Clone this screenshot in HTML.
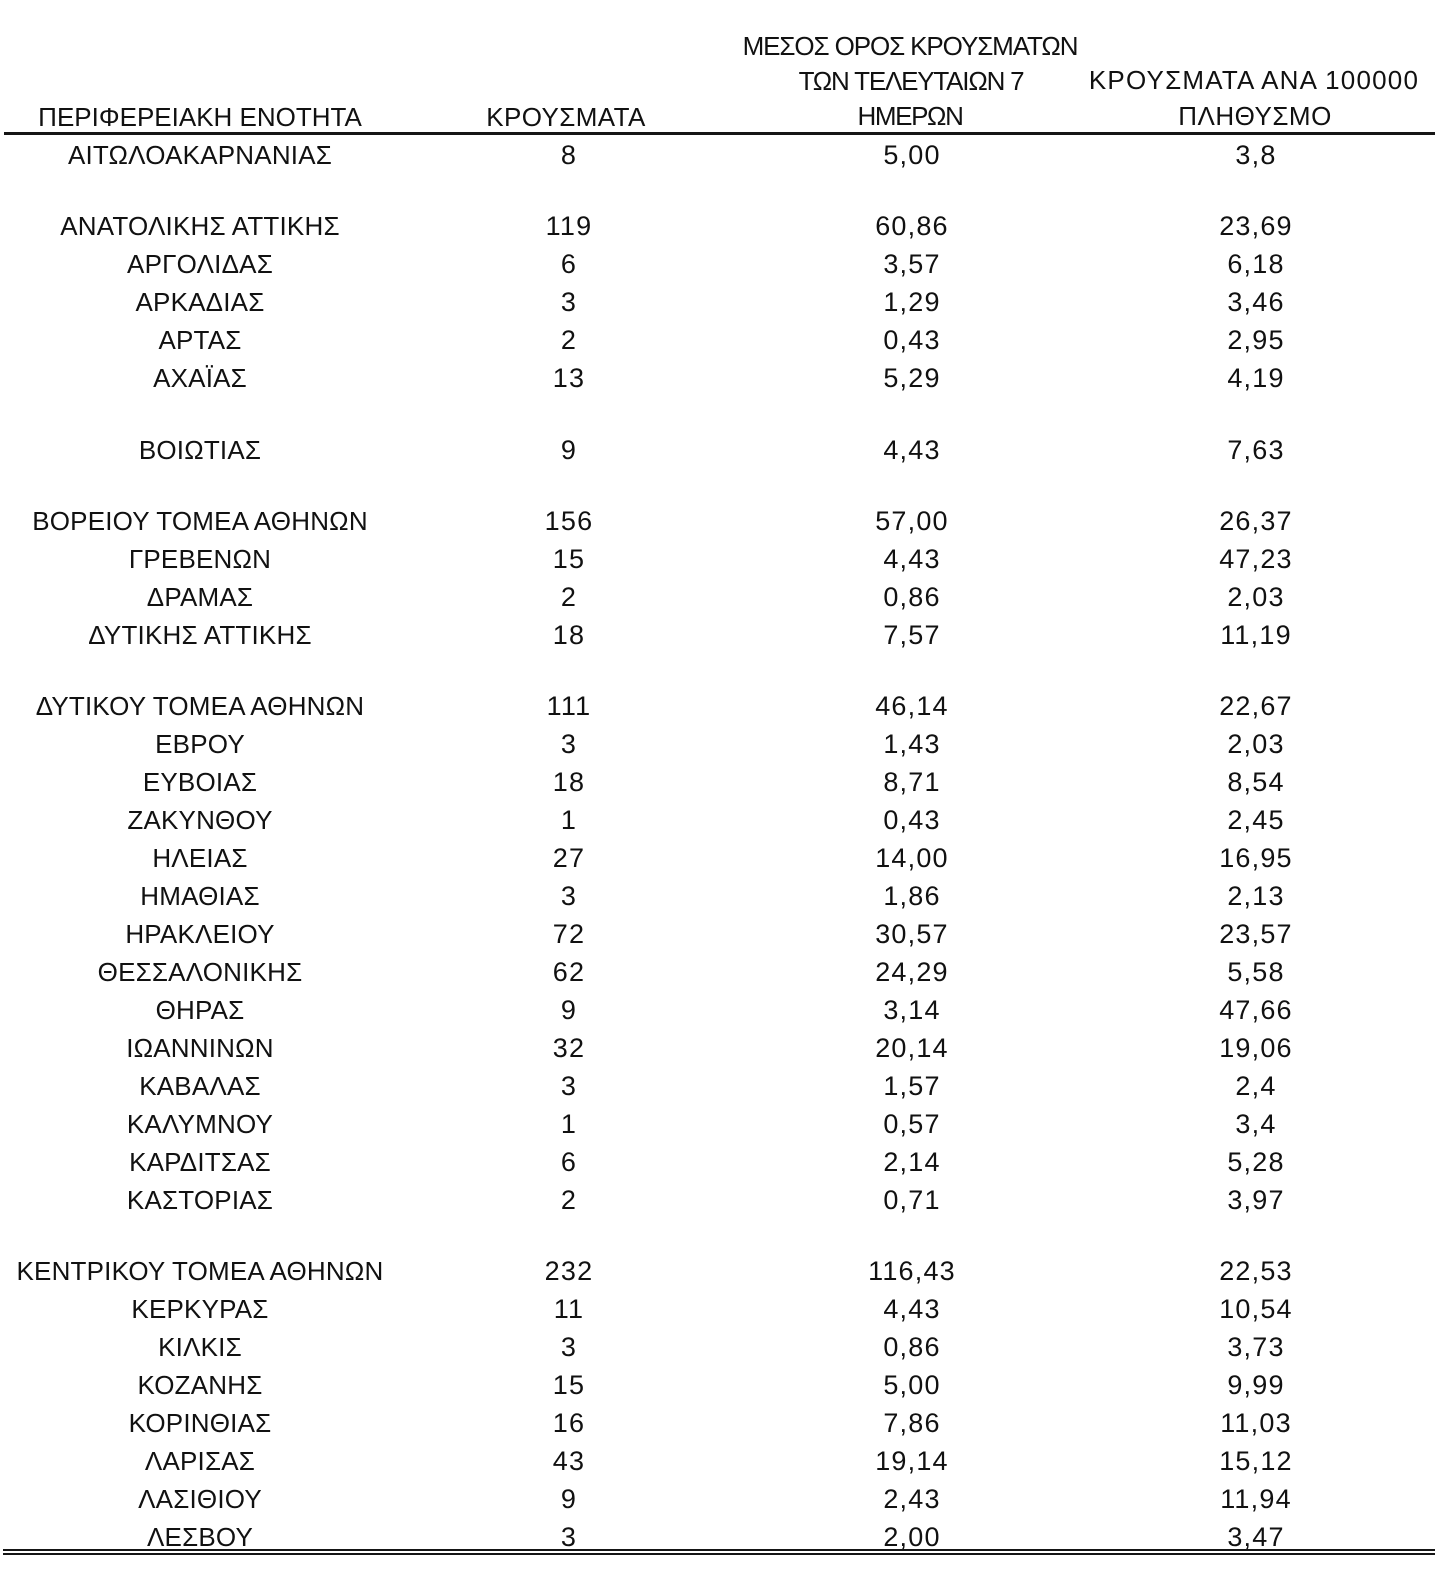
<!DOCTYPE html>
<html>
<head>
<meta charset="utf-8">
<style>
html,body{margin:0;padding:0;background:#fff;}
body{width:1435px;height:1578px;position:relative;overflow:hidden;font-family:"Liberation Sans","DejaVu Sans",sans-serif;font-size:26px;color:#111;}
.r{position:absolute;left:0;width:1435px;height:30px;}
.r span,.h{position:absolute;width:400px;text-align:center;line-height:30px;white-space:nowrap;}
.r span{top:0;}
.c1{left:0;letter-spacing:0.2px;}
.c2{left:369px;}
.c3{left:712px;}
.c4{left:1056px;}
.c2,.c3,.c4{font-size:27px;letter-spacing:1.2px;}
.line{position:absolute;background:#151515;}
</style>
</head>
<body>
<div class="h" style="left:0;top:102px;">ΠΕΡΙΦΕΡΕΙΑΚΗ ΕΝΟΤΗΤΑ</div>
<div class="h" style="left:366px;top:102px;letter-spacing:0.4px;">ΚΡΟΥΣΜΑΤΑ</div>
<div class="h" style="left:710px;top:31px;letter-spacing:-1.1px;">ΜΕΣΟΣ ΟΡΟΣ ΚΡΟΥΣΜΑΤΩΝ</div>
<div class="h" style="left:711px;top:66px;letter-spacing:-1.2px;">ΤΩΝ ΤΕΛΕΥΤΑΙΩΝ 7</div>
<div class="h" style="left:710px;top:101px;letter-spacing:-1.4px;">ΗΜΕΡΩΝ</div>
<div class="h" style="left:1054px;top:65px;letter-spacing:1.2px;">ΚΡΟΥΣΜΑΤΑ ΑΝΑ 100000</div>
<div class="h" style="left:1055px;top:101px;letter-spacing:0.5px;">ΠΛΗΘΥΣΜΟ</div>

<div class="line" style="left:4px;top:132px;width:1431px;height:3px;"></div>

<div class="r" style="top:139.8px"><span class="c1">ΑΙΤΩΛΟΑΚΑΡΝΑΝΙΑΣ</span><span class="c2">8</span><span class="c3">5,00</span><span class="c4">3,8</span></div>
<div class="r" style="top:211.3px"><span class="c1">ΑΝΑΤΟΛΙΚΗΣ ΑΤΤΙΚΗΣ</span><span class="c2">119</span><span class="c3">60,86</span><span class="c4">23,69</span></div>
<div class="r" style="top:249.2px"><span class="c1">ΑΡΓΟΛΙΔΑΣ</span><span class="c2">6</span><span class="c3">3,57</span><span class="c4">6,18</span></div>
<div class="r" style="top:287.2px"><span class="c1">ΑΡΚΑΔΙΑΣ</span><span class="c2">3</span><span class="c3">1,29</span><span class="c4">3,46</span></div>
<div class="r" style="top:325.1px"><span class="c1">ΑΡΤΑΣ</span><span class="c2">2</span><span class="c3">0,43</span><span class="c4">2,95</span></div>
<div class="r" style="top:363.1px"><span class="c1">ΑΧΑΪΑΣ</span><span class="c2">13</span><span class="c3">5,29</span><span class="c4">4,19</span></div>
<div class="r" style="top:434.5px"><span class="c1">ΒΟΙΩΤΙΑΣ</span><span class="c2">9</span><span class="c3">4,43</span><span class="c4">7,63</span></div>
<div class="r" style="top:506.0px"><span class="c1">ΒΟΡΕΙΟΥ ΤΟΜΕΑ ΑΘΗΝΩΝ</span><span class="c2">156</span><span class="c3">57,00</span><span class="c4">26,37</span></div>
<div class="r" style="top:543.9px"><span class="c1">ΓΡΕΒΕΝΩΝ</span><span class="c2">15</span><span class="c3">4,43</span><span class="c4">47,23</span></div>
<div class="r" style="top:581.9px"><span class="c1">ΔΡΑΜΑΣ</span><span class="c2">2</span><span class="c3">0,86</span><span class="c4">2,03</span></div>
<div class="r" style="top:619.8px"><span class="c1">ΔΥΤΙΚΗΣ ΑΤΤΙΚΗΣ</span><span class="c2">18</span><span class="c3">7,57</span><span class="c4">11,19</span></div>
<div class="r" style="top:691.3px"><span class="c1">ΔΥΤΙΚΟΥ ΤΟΜΕΑ ΑΘΗΝΩΝ</span><span class="c2">111</span><span class="c3">46,14</span><span class="c4">22,67</span></div>
<div class="r" style="top:729.2px"><span class="c1">ΕΒΡΟΥ</span><span class="c2">3</span><span class="c3">1,43</span><span class="c4">2,03</span></div>
<div class="r" style="top:767.2px"><span class="c1">ΕΥΒΟΙΑΣ</span><span class="c2">18</span><span class="c3">8,71</span><span class="c4">8,54</span></div>
<div class="r" style="top:805.1px"><span class="c1">ΖΑΚΥΝΘΟΥ</span><span class="c2">1</span><span class="c3">0,43</span><span class="c4">2,45</span></div>
<div class="r" style="top:843.1px"><span class="c1">ΗΛΕΙΑΣ</span><span class="c2">27</span><span class="c3">14,00</span><span class="c4">16,95</span></div>
<div class="r" style="top:881.0px"><span class="c1">ΗΜΑΘΙΑΣ</span><span class="c2">3</span><span class="c3">1,86</span><span class="c4">2,13</span></div>
<div class="r" style="top:919.0px"><span class="c1">ΗΡΑΚΛΕΙΟΥ</span><span class="c2">72</span><span class="c3">30,57</span><span class="c4">23,57</span></div>
<div class="r" style="top:956.9px"><span class="c1">ΘΕΣΣΑΛΟΝΙΚΗΣ</span><span class="c2">62</span><span class="c3">24,29</span><span class="c4">5,58</span></div>
<div class="r" style="top:994.9px"><span class="c1">ΘΗΡΑΣ</span><span class="c2">9</span><span class="c3">3,14</span><span class="c4">47,66</span></div>
<div class="r" style="top:1032.8px"><span class="c1">ΙΩΑΝΝΙΝΩΝ</span><span class="c2">32</span><span class="c3">20,14</span><span class="c4">19,06</span></div>
<div class="r" style="top:1070.8px"><span class="c1">ΚΑΒΑΛΑΣ</span><span class="c2">3</span><span class="c3">1,57</span><span class="c4">2,4</span></div>
<div class="r" style="top:1108.7px"><span class="c1">ΚΑΛΥΜΝΟΥ</span><span class="c2">1</span><span class="c3">0,57</span><span class="c4">3,4</span></div>
<div class="r" style="top:1146.7px"><span class="c1">ΚΑΡΔΙΤΣΑΣ</span><span class="c2">6</span><span class="c3">2,14</span><span class="c4">5,28</span></div>
<div class="r" style="top:1184.6px"><span class="c1">ΚΑΣΤΟΡΙΑΣ</span><span class="c2">2</span><span class="c3">0,71</span><span class="c4">3,97</span></div>
<div class="r" style="top:1256.1px"><span class="c1">ΚΕΝΤΡΙΚΟΥ ΤΟΜΕΑ ΑΘΗΝΩΝ</span><span class="c2">232</span><span class="c3">116,43</span><span class="c4">22,53</span></div>
<div class="r" style="top:1294.0px"><span class="c1">ΚΕΡΚΥΡΑΣ</span><span class="c2">11</span><span class="c3">4,43</span><span class="c4">10,54</span></div>
<div class="r" style="top:1332.0px"><span class="c1">ΚΙΛΚΙΣ</span><span class="c2">3</span><span class="c3">0,86</span><span class="c4">3,73</span></div>
<div class="r" style="top:1369.9px"><span class="c1">ΚΟΖΑΝΗΣ</span><span class="c2">15</span><span class="c3">5,00</span><span class="c4">9,99</span></div>
<div class="r" style="top:1407.9px"><span class="c1">ΚΟΡΙΝΘΙΑΣ</span><span class="c2">16</span><span class="c3">7,86</span><span class="c4">11,03</span></div>
<div class="r" style="top:1445.8px"><span class="c1">ΛΑΡΙΣΑΣ</span><span class="c2">43</span><span class="c3">19,14</span><span class="c4">15,12</span></div>
<div class="r" style="top:1483.8px"><span class="c1">ΛΑΣΙΘΙΟΥ</span><span class="c2">9</span><span class="c3">2,43</span><span class="c4">11,94</span></div>
<div class="r" style="top:1521.7px"><span class="c1">ΛΕΣΒΟΥ</span><span class="c2">3</span><span class="c3">2,00</span><span class="c4">3,47</span></div>

<div class="line" style="left:3px;top:1548.7px;width:1432px;height:2px;"></div>
<div class="line" style="left:3px;top:1553px;width:1432px;height:2px;"></div>
</body>
</html>
